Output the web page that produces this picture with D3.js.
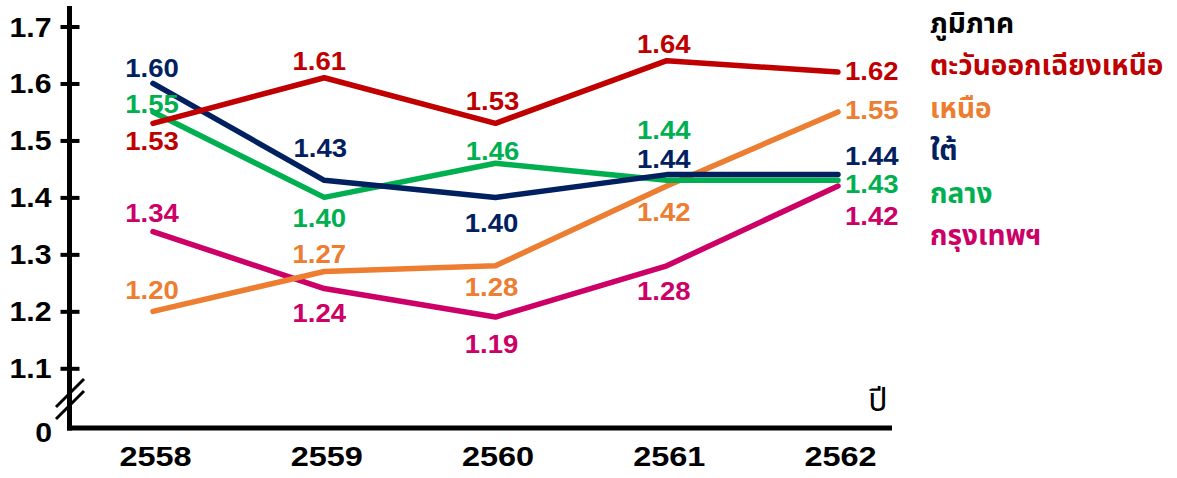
<!DOCTYPE html>
<html>
<head>
<meta charset="utf-8">
<script src="https://cdn.jsdelivr.net/npm/d3@7/dist/d3.min.js"></script>
<style>
  html, body { margin: 0; padding: 0; background: #fff; }
  svg { display: block; }
</style>
</head>
<body>
<svg id="chart" width="1177" height="478"></svg>
<script>
// ---------------- data ----------------
const years = ["2558", "2559", "2560", "2561", "2562"];
const yTicks = [1.1, 1.2, 1.3, 1.4, 1.5, 1.6, 1.7];
const legendTitle = "ภูมิภาค";
const xAxisTitle = "ปี";

const seriesNames = ["ตะวันออกเฉียงเหนือ", "เหนือ", "ใต้", "กลาง", "กรุงเทพฯ"];
const northeast = [1.53, 1.61, 1.53, 1.64, 1.62];
const north     = [1.20, 1.27, 1.28, 1.42, 1.55];
const south     = [1.60, 1.43, 1.40, 1.44, 1.44];
const central   = [1.55, 1.40, 1.46, 1.43, 1.43];
const bangkok   = [1.34, 1.24, 1.19, 1.28, 1.42];
// data labels as printed on the chart
const northeastLabels = ["1.53", "1.61", "1.53", "1.64", "1.62"];
const northLabels     = ["1.20", "1.27", "1.28", "1.42", "1.55"];
const southLabels     = ["1.60", "1.43", "1.40", "1.44", "1.44"];
const centralLabels   = ["1.55", "1.40", "1.46", "1.44", "1.43"];
const bangkokLabels   = ["1.34", "1.24", "1.19", "1.28", "1.42"];

// ---------------- styling / placement ----------------
const colors = ["#C00000", "#ED7D31", "#002060", "#00B050", "#CC0066"];
// label offsets [dx, dy(baseline)] relative to the point
const labelOffsets = [
  [[-1, 27], [-5, -8], [-3, -13], [-3, -8], [7, 8]],
  [[-1, -12], [-5, -8], [-4, 30], [-3, 35], [7, 7]],
  [[-1, -6], [-4, -23], [-4, 35], [-3, -7], [7, -10]],
  [[-1, 1], [-5, 30], [-3, -3], [-3, -41], [7, 13]],
  [[-1, -10], [-5, 33], [-4, 36], [-3, 34], [7, 39]]
];

const svg = d3.select("#chart");
const FONT = "'Liberation Sans', Arial, sans-serif";
const THAI = "'Noto Sans Thai', 'Noto Sans', Tahoma, sans-serif";
const YAXIS_STRETCH = 1.08, XAXIS_STRETCH = 1.16, LABEL_STRETCH = 1.1;

const x = d3.scalePoint().domain(years).range([153, 838]);
const y = d3.scaleLinear().domain([1.1, 1.7]).range([368.3, 26.5]);

const axisX = 69.5, axisY = 428, axisRight = 892, axisTop = 6;

// ---------- y axis ----------
const yAxis = d3.axisLeft(y).tickValues(yTicks).tickSize(19).tickPadding(10)
  .tickFormat(d3.format(".1f"));
const gy = svg.append("g").attr("transform", `translate(${axisX + 10},0)`).call(yAxis);
gy.select(".domain").remove();
gy.selectAll(".tick line").attr("stroke", "#000").attr("stroke-width", 4);
gy.selectAll(".tick text").attr("font-family", FONT).attr("font-weight", "bold")
  .attr("font-size", 28).attr("fill", "#000").attr("dy", "0.34em")
  .attr("x", null).attr("transform", `translate(-28,0) scale(${YAXIS_STRETCH},1)`);

svg.append("line").attr("x1", axisX).attr("x2", axisX).attr("y1", axisTop).attr("y2", axisY + 2.5)
  .attr("stroke", "#000").attr("stroke-width", 5);

// break marks
[[0, 0], [0, 12]].forEach(([ox, oy]) => {
  svg.append("line").attr("x1", 56 + ox).attr("y1", 407 + oy).attr("x2", 84 + ox).attr("y2", 379 + oy)
    .attr("stroke", "#000").attr("stroke-width", 3);
});
svg.append("text").attr("transform", `translate(52,432) scale(${YAXIS_STRETCH},1)`)
  .attr("dy", "0.34em").attr("text-anchor", "end")
  .attr("font-family", FONT).attr("font-weight", "bold").attr("font-size", 28).text("0");

// ---------- x axis ----------
svg.append("line").attr("x1", axisX - 2.5).attr("x2", axisRight).attr("y1", axisY).attr("y2", axisY)
  .attr("stroke", "#000").attr("stroke-width", 5);
const xAxis = d3.axisBottom(x).tickSize(0).tickPadding(18);
const gx = svg.append("g").attr("transform", `translate(2,${axisY})`).call(xAxis);
gx.select(".domain").remove();
gx.selectAll(".tick text").attr("font-family", FONT).attr("font-weight", "bold")
  .attr("font-size", 28).attr("fill", "#000").attr("transform", `scale(${XAXIS_STRETCH},1)`);

svg.append("text").attr("x", 878).attr("y", 411).attr("text-anchor", "middle")
  .attr("font-family", THAI).attr("font-size", 32).attr("fill", "#000").text(xAxisTitle);

// ---------- lines ----------
const allValues = [northeast, north, south, central, bangkok];
const allLabels = [northeastLabels, northLabels, southLabels, centralLabels, bangkokLabels];
const line = d3.line().x((d, i) => x(years[i])).y(d => y(d));

// draw order: bangkok, north, central, south, northeast (northeast on top)
const drawOrder = [4, 1, 3, 2, 0];
drawOrder.forEach(s => {
  svg.append("path").datum(allValues[s]).attr("d", line)
    .attr("fill", "none").attr("stroke", colors[s]).attr("stroke-width", 5.5)
    .attr("stroke-linecap", "round").attr("stroke-linejoin", "round");
});

// ---------- data labels ----------
allValues.forEach((vals, s) => {
  vals.forEach((v, i) => {
    const [dx, dy] = labelOffsets[s][i];
    const last = i === vals.length - 1;
    svg.append("text")
      .attr("transform", `translate(${x(years[i]) + dx},${y(v) + dy}) scale(${LABEL_STRETCH},1)`)
      .attr("text-anchor", last ? "start" : "middle")
      .attr("font-family", FONT).attr("font-weight", "bold").attr("font-size", 25)
      .attr("fill", colors[s]).text(allLabels[s][i]);
  });
});

// ---------- legend ----------
const legendBaselines = d3.scaleLinear().domain([0, 5]).range([33, 245]);
svg.append("text").attr("x", 930).attr("y", legendBaselines(0))
  .attr("font-family", THAI).attr("font-weight", "bold").attr("font-size", 28)
  .attr("fill", "#000").text(legendTitle);
seriesNames.forEach((n, s) => {
  svg.append("text").attr("x", 930).attr("y", legendBaselines(s + 1))
    .attr("font-family", THAI).attr("font-weight", "bold").attr("font-size", 28)
    .attr("fill", colors[s]).text(n);
});
</script>
</body>
</html>
